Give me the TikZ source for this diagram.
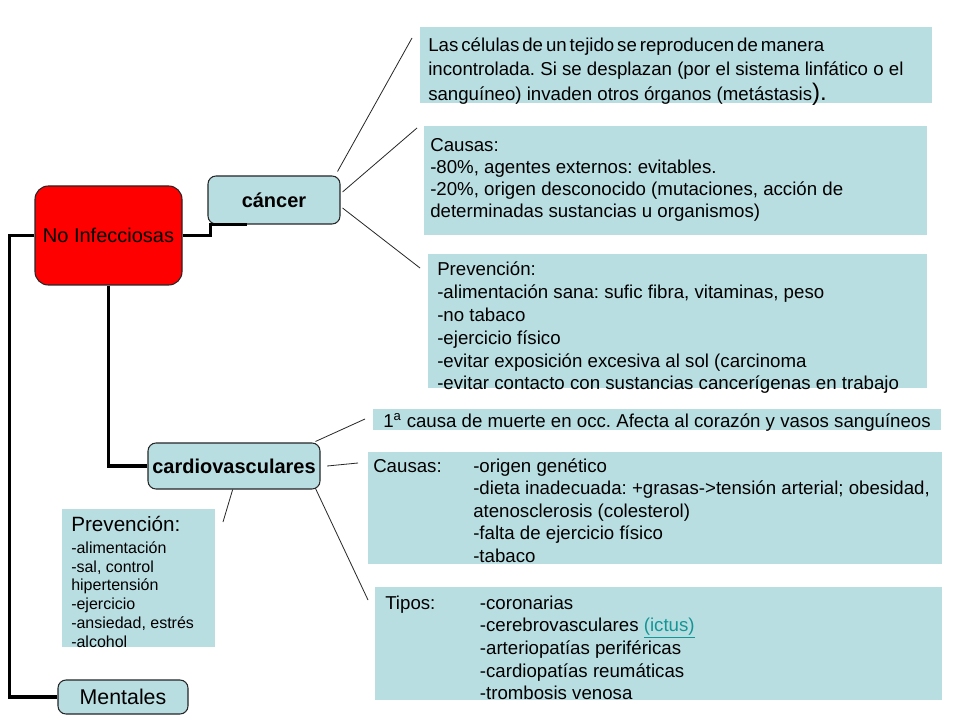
\documentclass[tikz,border=0pt]{standalone}
\usepackage{fontspec}
\setmainfont{Liberation Sans}
\definecolor{boxblue}{RGB}{185,222,226}
\definecolor{linkteal}{RGB}{20,150,150}
\definecolor{nired}{RGB}{255,0,0}
\frenchspacing
\begin{document}
\begin{tikzpicture}[x=0.75pt,y=-0.75pt,
  panel/.style={fill=boxblue, draw=none, inner sep=0pt},
  topic/.style={fill=boxblue, draw=black!85, line width=0.8pt, rounded corners=6pt, inner sep=0pt},
  trunk/.style={line width=2.6pt},
  twig/.style={line width=0.6pt, draw=black!85},
  body/.style={inner sep=0pt, anchor=base west},
]
\useasboundingbox (0,0) rectangle (960,720);
\fill[white] (0,0) rectangle (960,720);

% main nodes
\node[fill=nired, draw=black!85, line width=0.8pt, rounded corners=10pt, inner sep=0pt,
      minimum width=110.25pt, minimum height=74.25pt, font=\fontsize{15}{18}\selectfont] (ni) at (108.5,235.5) {No Infecciosas};
\node[topic, minimum width=99pt, minimum height=36pt, font=\fontsize{15}{18}\selectfont\bfseries] (can) at (274,200) {cáncer};
\node[topic, minimum width=129pt, minimum height=34.5pt, font=\fontsize{15}{18}\selectfont\bfseries] (card) at (234,466) {cardiovasculares};
\node[topic, minimum width=97.5pt, minimum height=25.5pt, font=\fontsize{16}{18}\selectfont] (ment) at (123,697) {Mentales};

% thick connectors
\draw[trunk] (ni.west) -- ++(-25,0) |- (ment.west);
\draw[trunk] (ni.south) |- (card.west);
\draw[trunk] (ni.east) -- ++(28,0) |- ([xshift=30]can.south west);

% cancer panels
\node[panel, minimum width=384pt, minimum height=57pt] (c1) at (676,65) {};
\node[body, font=\fontsize{14}{18}\selectfont] (c1t) at (428,52) {\begin{tabular}[t]{@{}l@{}}
{\spaceskip=2.2pt\relax Las células de un tejido se reproducen de manera}\\
incontrolada. Si se desplazan (por el sistema linfático o el\\
sanguíneo) invaden otros órganos (metástasis{\fontsize{18}{18}\selectfont).}
\end{tabular}};

\node[panel, minimum width=377.25pt, minimum height=81.75pt] (c2) at (675.5,180.5) {};
\node[body, font=\fontsize{14}{16.3}\selectfont] (c2t) at (430,152) {\begin{tabular}[t]{@{}l@{}}
Causas:\\
-80\%, agentes externos: evitables.\\
-20\%, origen desconocido (mutaciones, acción de\\
determinadas sustancias u organismos)
\end{tabular}};

\node[panel, minimum width=374.25pt, minimum height=100.5pt] (c3) at (677.5,321) {};
\node[body, font=\fontsize{14}{17.1}\selectfont] (c3t) at (437,276) {\begin{tabular}[t]{@{}l@{}}
Prevención:\\
-alimentación sana: sufic fibra, vitaminas, peso\\
-no tabaco\\
-ejercicio físico\\
-evitar exposición excesiva al sol (carcinoma\\
-evitar contacto con sustancias cancerígenas en trabajo
\end{tabular}};

% cardio panels
\node[panel, minimum width=426pt, minimum height=15.75pt] (v1) at (657,419.5) {};
\node[body, font=\fontsize{14}{16.5}\selectfont] (v1t) at (383,427) {1\textsuperscript{a} causa de muerte en occ. Afecta al corazón y vasos sanguíneos};

\node[panel, minimum width=430.5pt, minimum height=84pt] (v2) at (655,508) {};
\node[body, font=\fontsize{14}{16.9}\selectfont] (v2t) at (373,472) {\begin{tabular}[t]{@{}p{75pt}@{}l@{}}
Causas: & -origen genético\\
 & -dieta inadecuada: +grasas->tensión arterial; obesidad,\\
 & atenosclerosis (colesterol)\\
 & -falta de ejercicio físico\\
 & -tabaco
\end{tabular}};

\node[panel, minimum width=425.25pt, minimum height=84.75pt] (v3) at (658.5,643.5) {};
\node[body, font=\fontsize{14}{17}\selectfont] (v3t) at (385,609) {\begin{tabular}[t]{@{}p{71pt}@{}l@{}}
Tipos: & -coronarias\\
 & -cerebrovasculares \textcolor{linkteal}{\underline{(ictus)}}\\
 & -arteriopatías periféricas\\
 & -cardiopatías reumáticas\\
 & -trombosis venosa
\end{tabular}};

\node[panel, minimum width=114.75pt, minimum height=103.5pt] (v4) at (138.5,578) {};
\node[body, font=\fontsize{12}{14.1}\selectfont] (v4t) at (71,531) {\begin{tabular}[t]{@{}l@{}}
{\fontsize{15.5}{15}\selectfont Prevención:}\\[2.6pt]
-alimentación\\
-sal, control\\
hipertensión\\
-ejercicio\\
-ansiedad, estrés\\
-alcohol
\end{tabular}};

% thin connectors
\coordinate (k1) at (412,38);
\coordinate (k2) at (417,128);
\coordinate (k3) at (420,268);
\draw[twig] ([shift={(-3,-4)}]can.north east) -- (k1);
\draw[twig] ([shift={(2,-8)}]can.east) -- (k2);
\draw[twig] ([shift={(2,8)}]can.east) -- (k3);

\coordinate (d1) at (365,419);
\coordinate (d2) at (358,463);
\coordinate (d3) at (368,600);
\coordinate (d4) at (223,522);
\draw[twig] ([shift={(-5,-1)}]card.north east) -- (d1);
\draw[twig] ([xshift=5]card.east) -- (d2);
\draw[twig] ([shift={(-5,-1)}]card.south east) -- (d3);
\draw[twig] ([xshift=-1]card.south) -- (d4);
\end{tikzpicture}
\end{document}
